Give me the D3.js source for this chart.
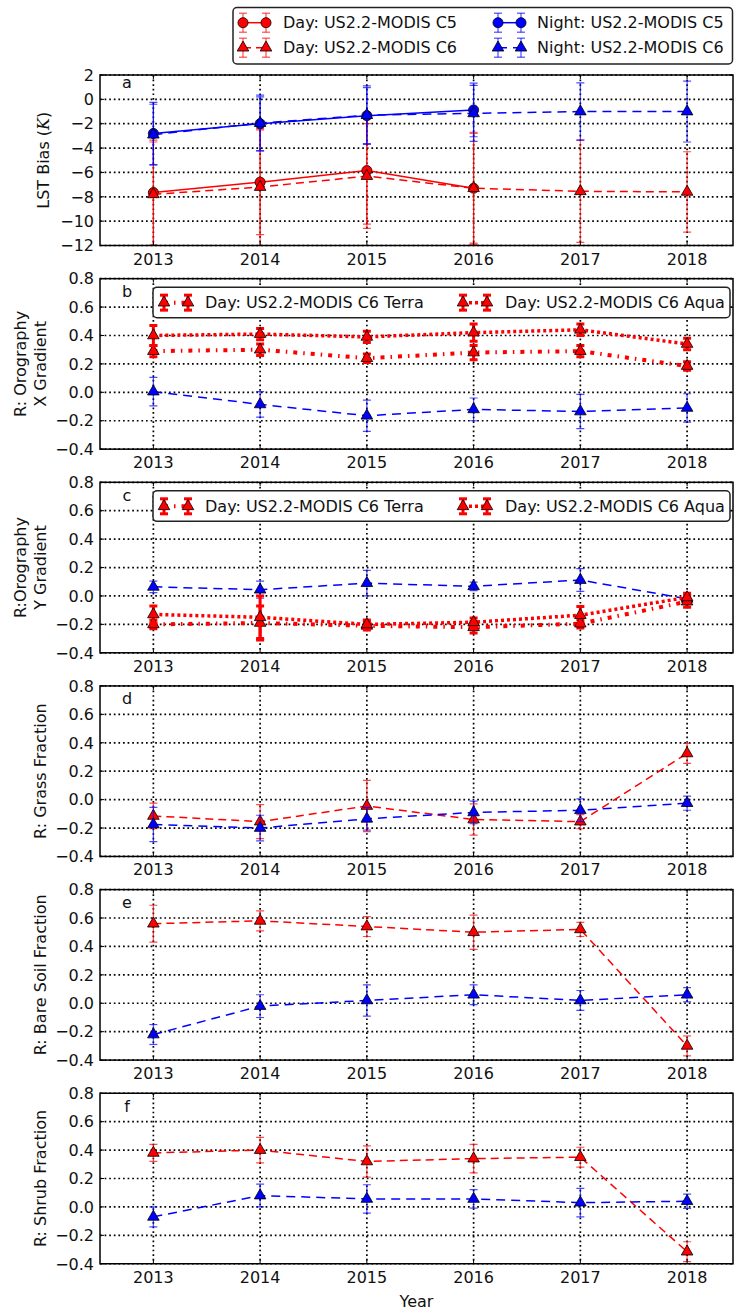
<!DOCTYPE html>
<html>
<head>
<meta charset="utf-8">
<script src="https://cdn.jsdelivr.net/npm/d3@7"></script>
<style>
  body { margin: 0; background: #fff; }
  text { font-family: 'DejaVu Sans', sans-serif; fill: #111; }
</style>
</head>
<body>
<div id="root"></div>
<script>
var years = [2013, 2014, 2015, 2016, 2017, 2018];

// a: LST bias (K)
var lstDayC5 = [-7.65, -6.8, -5.85, -7.3];
var lstDayC5Err = [4.3, 4.3, 4.4, 4.5];
var lstDayC6 = [-7.8, -7.2, -6.3, -7.3, -7.55, -7.6];
var lstDayC6Err = [4.3, 4.8, 4.3, 4.6, 4.2, 3.3];
var lstNightC5 = [-2.8, -2.0, -1.34, -0.87];
var lstNightC5Err = [2.55, 2.2, 2.3, 2.2];
var lstNightC6 = [-2.9, -1.95, -1.3, -1.15, -1.0, -1.0];
var lstNightC6Err = [2.5, 2.3, 2.4, 2.3, 2.35, 2.5];

// b: R orography x gradient
var xgTerra = [0.29, 0.30, 0.24, 0.28, 0.29, 0.185];
var xgTerraErr = [0.04, 0.04, 0.03, 0.05, 0.04, 0.03];
var xgAqua = [0.40, 0.41, 0.39, 0.42, 0.44, 0.34];
var xgAquaErr = [0.07, 0.04, 0.04, 0.06, 0.04, 0.04];
var xgNight = [0.005, -0.085, -0.165, -0.12, -0.135, -0.11];
var xgNightErr = [0.1, 0.09, 0.11, 0.08, 0.12, 0.1];

// c: R orography y gradient
var ygTerra = [-0.2, -0.19, -0.21, -0.22, -0.195, -0.04];
var ygTerraErr = [0.03, 0.12, 0.03, 0.04, 0.03, 0.04];
var ygAqua = [-0.13, -0.15, -0.2, -0.185, -0.135, -0.01];
var ygAquaErr = [0.06, 0.15, 0.03, 0.03, 0.06, 0.03];
var ygNight = [0.064, 0.044, 0.09, 0.068, 0.112, -0.02];
var ygNightErr = [0.04, 0.06, 0.09, 0.03, 0.08, 0.03];

// d: R grass fraction
var grassDay = [-0.115, -0.155, -0.045, -0.14, -0.155, 0.325];
var grassDayErr = [0.09, 0.12, 0.18, 0.11, 0.05, 0.07];
var grassNight = [-0.175, -0.2, -0.135, -0.09, -0.075, -0.025];
var grassNightErr = [0.12, 0.09, 0.08, 0.08, 0.08, 0.05];

// e: R bare soil fraction
var soilDay = [0.56, 0.58, 0.54, 0.50, 0.52, -0.30];
var soilDayErr = [0.13, 0.07, 0.07, 0.12, 0.05, 0.07];
var soilNight = [-0.22, -0.02, 0.02, 0.06, 0.02, 0.06];
var soilNightErr = [0.07, 0.08, 0.11, 0.07, 0.07, 0.05];

// f: R shrub fraction
var shrubDay = [0.38, 0.40, 0.32, 0.34, 0.35, -0.315];
var shrubDayErr = [0.06, 0.09, 0.11, 0.1, 0.07, 0.07];
var shrubNight = [-0.07, 0.08, 0.056, 0.056, 0.03, 0.04];
var shrubNightErr = [0.07, 0.08, 0.1, 0.065, 0.1, 0.05];

var lstTicks = [-12, -10, -8, -6, -4, -2, 0, 2];
var rTicks = [-0.4, -0.2, 0.0, 0.2, 0.4, 0.6, 0.8];

var styles = {
  dayC5:   { color: '#ff0000', dash: null, lw: 1.5, marker: 'circle', ebw: 1.2, ebo: 0.7 },
  dayC6:   { color: '#ff0000', dash: '8,5', lw: 1.5, marker: 'triangle', ebw: 1.2, ebo: 0.7 },
  nightC5: { color: '#0000ff', dash: null, lw: 1.5, marker: 'circle', ebw: 1.2, ebo: 0.7 },
  nightC6: { color: '#0000ff', dash: '9,6', lw: 1.5, marker: 'triangle', ebw: 1.2, ebo: 0.7 },
  terra:   { color: '#ff0000', dash: '4,6,1.5,6', lw: 4, marker: 'triangle', ebw: 3, ebo: 1 },
  aqua:    { color: '#ff0000', dash: '3,3', lw: 3.5, marker: 'triangle', ebw: 3, ebo: 1 }
};

var w = 736, h = 1312;
var left = 100, right = 733;
var panelH = 170.5, panelStep = 203.65, firstTop = 75;

var svg = d3.select('#root')
  .append('svg')
    .attr('width', w)
    .attr('height', h);

var x = d3.scaleLinear().domain([2012.5, 2018.43]).range([left, right]);

var panels = [
  { letter: 'a', letterDy: 13, domain: [-12, 2], ticks: lstTicks, fmt: d3.format('d'),
    label: ['LST Bias (', 'K', ')'], legend: false,
    series: [
      { s: 'dayC5', v: lstDayC5, e: lstDayC5Err },
      { s: 'dayC6', v: lstDayC6, e: lstDayC6Err },
      { s: 'nightC5', v: lstNightC5, e: lstNightC5Err },
      { s: 'nightC6', v: lstNightC6, e: lstNightC6Err }
    ] },
  { letter: 'b', letterDy: 18.5, domain: [-0.4, 0.8], ticks: rTicks, fmt: d3.format('.1f'),
    label: ['R: Orography', 'X Gradient'], legend: true,
    series: [
      { s: 'nightC6', v: xgNight, e: xgNightErr },
      { s: 'terra', v: xgTerra, e: xgTerraErr },
      { s: 'aqua', v: xgAqua, e: xgAquaErr }
    ] },
  { letter: 'c', letterDy: 18.5, domain: [-0.4, 0.8], ticks: rTicks, fmt: d3.format('.1f'),
    label: ['R:Orography', 'Y Gradient'], legend: true,
    series: [
      { s: 'nightC6', v: ygNight, e: ygNightErr },
      { s: 'terra', v: ygTerra, e: ygTerraErr },
      { s: 'aqua', v: ygAqua, e: ygAquaErr }
    ] },
  { letter: 'd', letterDy: 18.5, domain: [-0.4, 0.8], ticks: rTicks, fmt: d3.format('.1f'),
    label: ['R: Grass Fraction'], legend: false,
    series: [
      { s: 'dayC6', v: grassDay, e: grassDayErr },
      { s: 'nightC6', v: grassNight, e: grassNightErr }
    ] },
  { letter: 'e', letterDy: 18.5, domain: [-0.4, 0.8], ticks: rTicks, fmt: d3.format('.1f'),
    label: ['R: Bare Soil Fraction'], legend: false,
    series: [
      { s: 'dayC6', v: soilDay, e: soilDayErr },
      { s: 'nightC6', v: soilNight, e: soilNightErr }
    ] },
  { letter: 'f', letterDy: 18.5, domain: [-0.4, 0.8], ticks: rTicks, fmt: d3.format('.1f'),
    label: ['R: Shrub Fraction'], legend: false,
    series: [
      { s: 'dayC6', v: shrubDay, e: shrubDayErr },
      { s: 'nightC6', v: shrubNight, e: shrubNightErr }
    ] }
];

function markerPath(type) {
  if (type === 'circle') return d3.symbol().type(d3.symbolCircle).size(80)();
  return d3.symbol().type(d3.symbolTriangle).size(58)();
}

function errBar(g, cx, y0, y1, st) {
  var cap = 4;
  var eb = g.append('g')
      .attr('stroke', st.color)
      .attr('stroke-width', st.ebw)
      .attr('stroke-opacity', st.ebo);
  eb.append('line').attr('x1', cx).attr('x2', cx).attr('y1', y0).attr('y2', y1);
  eb.append('line').attr('x1', cx - cap).attr('x2', cx + cap).attr('y1', y0).attr('y2', y0);
  eb.append('line').attr('x1', cx - cap).attr('x2', cx + cap).attr('y1', y1).attr('y2', y1);
}

function drawSeries(g, y, ser) {
  var st = styles[ser.s];
  var pts = ser.v.map(function (v, i) {
    return { year: years[i], v: v, e: ser.e[i] };
  });

  pts.forEach(function (d) {
    errBar(g, x(d.year), y(d.v - d.e), y(d.v + d.e), st);
  });

  g.append('path')
      .datum(pts)
      .attr('fill', 'none')
      .attr('stroke', st.color)
      .attr('stroke-width', st.lw)
      .attr('stroke-dasharray', st.dash)
      .attr('d', d3.line()
        .x(function (d) { return x(d.year); })
        .y(function (d) { return y(d.v); }));

  g.selectAll(null)
      .data(pts)
    .enter().append('path')
      .attr('d', markerPath(st.marker))
      .attr('transform', function (d) {
        return 'translate(' + x(d.year) + ',' + y(d.v) + ')';
      })
      .attr('fill', st.color)
      .attr('stroke', '#000')
      .attr('stroke-width', 0.8);
}

function legendSample(g, x0, x1, cy, st, ebh) {
  errBar(g, x0, cy - ebh, cy + ebh, st);
  errBar(g, x1, cy - ebh, cy + ebh, st);
  g.append('line')
      .attr('x1', x0).attr('x2', x1).attr('y1', cy).attr('y2', cy)
      .attr('stroke', st.color)
      .attr('stroke-width', st.lw)
      .attr('stroke-dasharray', st.dash);
  [x0, x1].forEach(function (px) {
    g.append('path')
        .attr('d', markerPath(st.marker))
        .attr('transform', 'translate(' + px + ',' + cy + ')')
        .attr('fill', st.color)
        .attr('stroke', '#000')
        .attr('stroke-width', 0.8);
  });
}

panels.forEach(function (p, i) {
  var top = firstTop + i * panelStep,
      bottom = top + panelH;

  var y = d3.scaleLinear().domain(p.domain).range([bottom, top]);

  var g = svg.append('g').attr('class', 'panel');

  svg.append('clipPath')
      .attr('id', 'clip' + i)
    .append('rect')
      .attr('x', left).attr('y', top)
      .attr('width', right - left).attr('height', panelH);

  // dotted grid
  var grid = g.append('g')
      .attr('stroke', '#000')
      .attr('stroke-width', 1.7)
      .attr('stroke-dasharray', '1.7,2.9');
  grid.selectAll('.gx')
      .data(years)
    .enter().append('line')
      .attr('x1', function (d) { return x(d); })
      .attr('x2', function (d) { return x(d); })
      .attr('y1', top).attr('y2', bottom);
  grid.selectAll('.gy')
      .data(p.ticks)
    .enter().append('line')
      .attr('x1', left).attr('x2', right)
      .attr('y1', function (d) { return y(d); })
      .attr('y2', function (d) { return y(d); });

  var plot = g.append('g').attr('clip-path', 'url(#clip' + i + ')');
  p.series.forEach(function (ser) {
    drawSeries(plot, y, ser);
  });

  // frame
  g.append('rect')
      .attr('x', left).attr('y', top)
      .attr('width', right - left).attr('height', panelH)
      .attr('fill', 'none')
      .attr('stroke', '#000')
      .attr('stroke-width', 1.5);

  // inward ticks
  var tk = g.append('g').attr('stroke', '#000').attr('stroke-width', 1);
  years.forEach(function (yr) {
    tk.append('line').attr('x1', x(yr)).attr('x2', x(yr)).attr('y1', bottom).attr('y2', bottom - 4);
    tk.append('line').attr('x1', x(yr)).attr('x2', x(yr)).attr('y1', top).attr('y2', top + 4);
  });
  p.ticks.forEach(function (t) {
    tk.append('line').attr('x1', left).attr('x2', left + 4).attr('y1', y(t)).attr('y2', y(t));
    tk.append('line').attr('x1', right).attr('x2', right - 4).attr('y1', y(t)).attr('y2', y(t));
  });

  // tick labels
  g.selectAll('.xl')
      .data(years)
    .enter().append('text')
      .attr('x', function (d) { return x(d); })
      .attr('y', bottom + 19)
      .attr('text-anchor', 'middle')
      .style('font-size', '16px')
      .text(function (d) { return d; });

  g.selectAll('.yl')
      .data(p.ticks)
    .enter().append('text')
      .attr('x', 94)
      .attr('y', function (d) { return y(d); })
      .attr('dy', '0.36em')
      .attr('text-anchor', 'end')
      .style('font-size', '16px')
      .text(function (d) { return p.fmt(d); });

  // panel letter
  g.append('text')
      .attr('x', 127)
      .attr('y', top + p.letterDy)
      .attr('text-anchor', 'middle')
      .style('font-size', '16px')
      .text(p.letter);

  // y label
  var cy = (top + bottom) / 2;
  if (p.label.length === 3) {
    var lt = g.append('text')
        .attr('transform', 'translate(49,' + cy + ') rotate(-90)')
        .attr('text-anchor', 'middle')
        .style('font-size', '16px');
    lt.append('tspan').text(p.label[0]);
    lt.append('tspan').style('font-style', 'italic').style('font-family', 'DejaVu Serif').text(p.label[1]);
    lt.append('tspan').text(p.label[2]);
  } else if (p.label.length === 2) {
    g.append('text')
        .attr('transform', 'translate(26,' + cy + ') rotate(-90)')
        .attr('text-anchor', 'middle')
        .style('font-size', '16px')
        .text(p.label[0]);
    g.append('text')
        .attr('transform', 'translate(46,' + cy + ') rotate(-90)')
        .attr('text-anchor', 'middle')
        .style('font-size', '16px')
        .text(p.label[1]);
  } else {
    g.append('text')
        .attr('transform', 'translate(46,' + cy + ') rotate(-90)')
        .attr('text-anchor', 'middle')
        .style('font-size', '16px')
        .text(p.label[0]);
  }

  // inner legend (b, c)
  if (p.legend) {
    var lg = g.append('g');
    var ly = top + 8.5;
    lg.append('rect')
        .attr('x', 153).attr('y', ly)
        .attr('width', 577).attr('height', 30.5)
        .attr('rx', 4)
        .attr('fill', '#fff')
        .attr('stroke', '#222')
        .attr('stroke-width', 1.5);
    var lcy = ly + 15.5;
    legendSample(lg, 164, 188, lcy, styles.terra, 7.5);
    lg.append('text').attr('x', 205).attr('y', lcy).attr('dy', '0.36em')
        .style('font-size', '16px').text('Day: US2.2-MODIS C6 Terra');
    legendSample(lg, 463, 487, lcy, styles.aqua, 7.5);
    lg.append('text').attr('x', 505).attr('y', lcy).attr('dy', '0.36em')
        .style('font-size', '16px').text('Day: US2.2-MODIS C6 Aqua');
  }

  if (i === panels.length - 1) {
    g.append('text')
        .attr('x', (left + right) / 2)
        .attr('y', 1307)
        .attr('text-anchor', 'middle')
        .style('font-size', '16px')
        .text('Year');
  }
});

// top legend
var tl = svg.append('g');
tl.append('rect')
    .attr('x', 233).attr('y', 7.5)
    .attr('width', 499.5).attr('height', 56.5)
    .attr('rx', 4)
    .attr('fill', '#fff')
    .attr('stroke', '#222')
    .attr('stroke-width', 1.5);

var topEntries = [
  { s: 'dayC5', x0: 243, tx: 283, cy: 22.7, text: 'Day: US2.2-MODIS C5' },
  { s: 'dayC6', x0: 243, tx: 283, cy: 47.7, text: 'Day: US2.2-MODIS C6' },
  { s: 'nightC5', x0: 498, tx: 537, cy: 22.7, text: 'Night: US2.2-MODIS C5' },
  { s: 'nightC6', x0: 498, tx: 537, cy: 47.7, text: 'Night: US2.2-MODIS C6' }
];
topEntries.forEach(function (d) {
  legendSample(tl, d.x0, d.x0 + 23, d.cy, styles[d.s], 9.5);
  tl.append('text')
      .attr('x', d.tx).attr('y', d.cy).attr('dy', '0.36em')
      .style('font-size', '16px')
      .text(d.text);
});
</script>
</body>
</html>
